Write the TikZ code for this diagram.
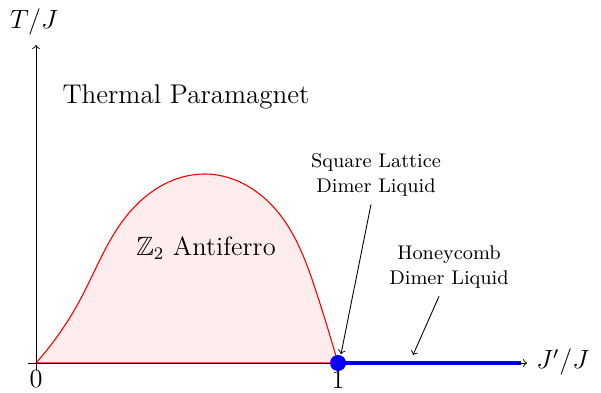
\documentclass[tikz,border=0pt]{standalone}
\usepackage{amssymb}
\usetikzlibrary{hobby}
\begin{document}
\begin{tikzpicture}[x=0.4545pt,y=-0.4545pt,
  axis/.style={->,line width=0.4pt},
  lbl/.style={font=\small,align=center,inner sep=0pt},
  big/.style={font=\large,inner sep=0pt},
  pointer/.style={->,line width=0.4pt}]
\useasboundingbox (0,0) rectangle (601,392);
% region
\draw[red,line width=0.5pt,fill=red!7,use Hobby shortcut] (36,363) .. (80,300) .. (130,211.7) .. (205,174) .. (270,203.3) .. (316.7,293.3) .. (338,363) -- cycle;
% axes
\coordinate (xs) at (28,363);
\coordinate (xe) at (527,363);
\coordinate (ys) at (36,371);
\coordinate (ye) at (36,45);
\coordinate (one) at (338,363);
\coordinate (be) at (521,363);
\draw[blue,line width=1.8pt] (one) -- (be);
\draw[axis] (xs) -- (xe);
\draw[axis] (ys) -- (ye);
\fill[blue] (one) circle[radius=8];
% labels
\node[big] (tj) at (34,22) {$T/J$};
\node[big,anchor=west] (jj) at (536,362) {$J'/J$};
\node[big] (z) at (36,379) {$0$};
\node[big] (o) at (338,380) {$1$};
\node[inner sep=0pt,font=\fontsize{12.3}{15}\selectfont] (tp) at (186,97) {Thermal Paramagnet};
\node[big] (af) at (206,248) {$\mathbb{Z}_2$ Antiferro};
\node[lbl] (sq) at (376,175) {Square Lattice\\Dimer Liquid};
\node[lbl] (hc) at (449,267) {Honeycomb\\Dimer Liquid};
\coordinate (sqt) at (341,354);
\coordinate (hct) at (413,355);
\draw[pointer] (sq.south) ++(-5,8) -- (sqt);
\draw[pointer] (hc.south) ++(-10,8) -- (hct);
\end{tikzpicture}
\end{document}
